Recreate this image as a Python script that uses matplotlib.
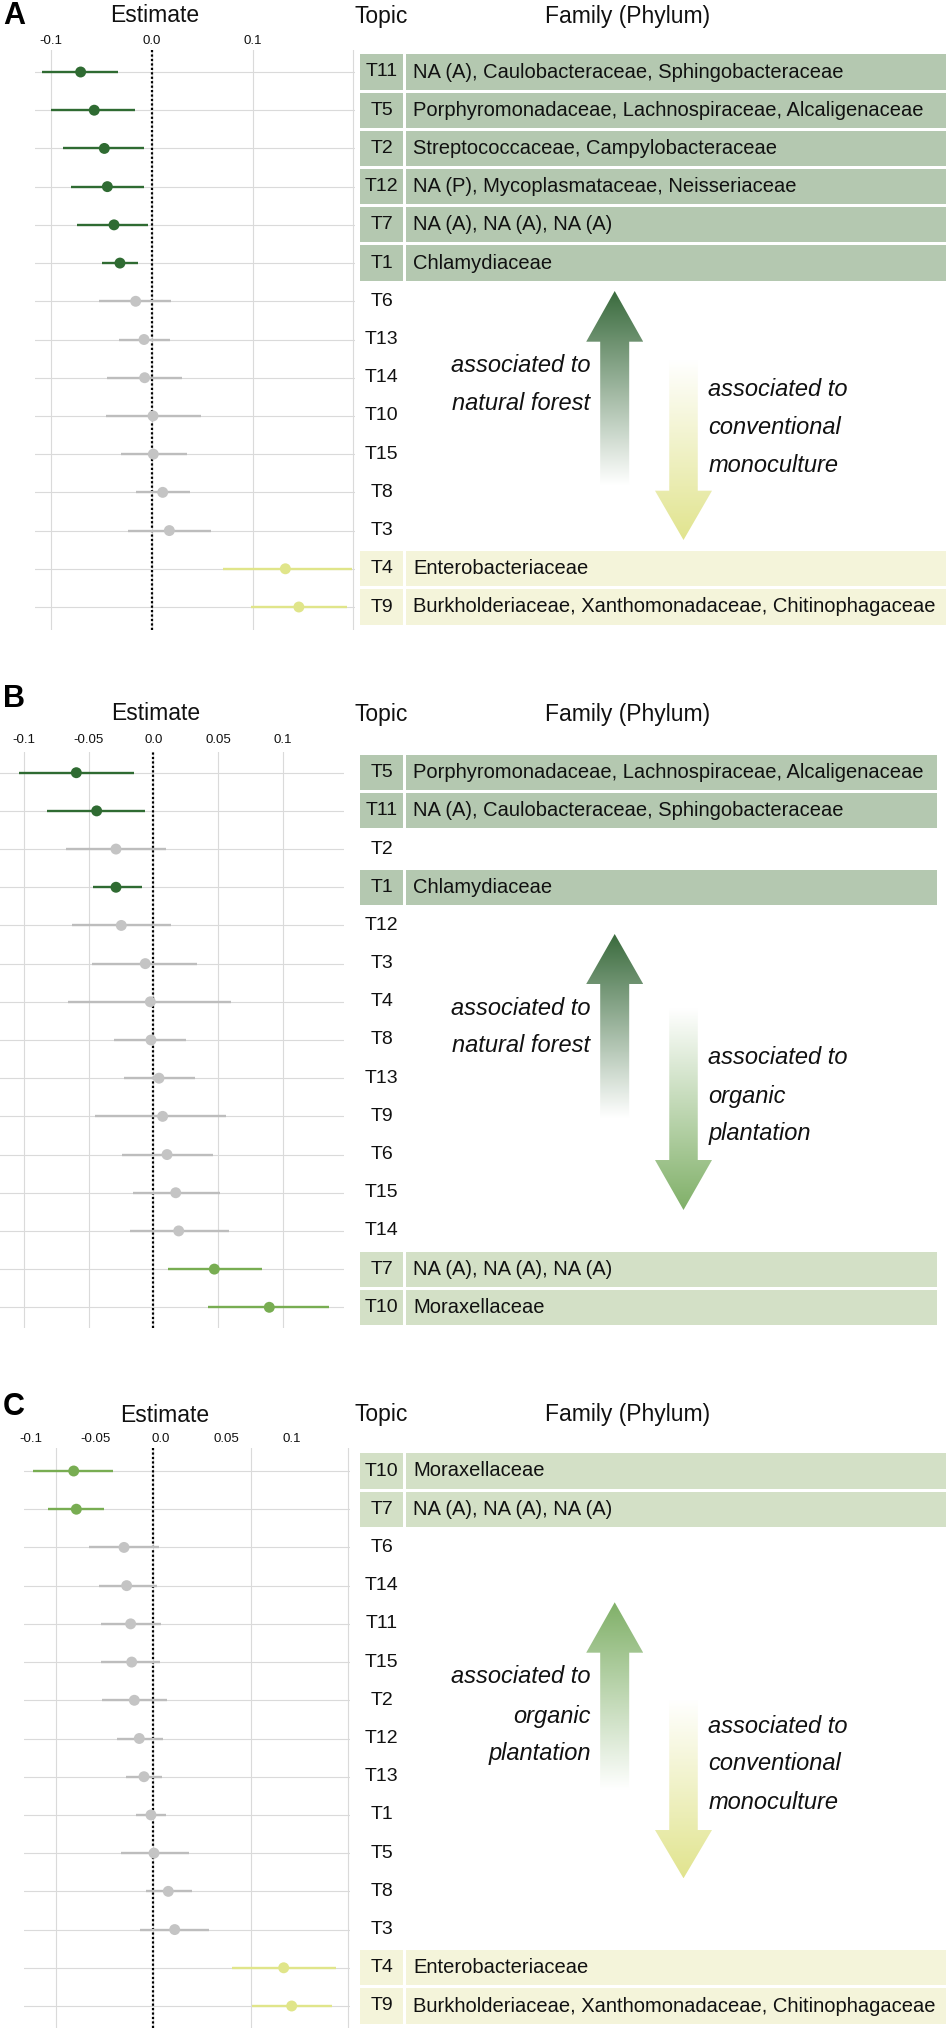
import matplotlib
matplotlib.use('Agg')
import matplotlib.pyplot as plt
import numpy as np
from matplotlib.patches import Polygon, Rectangle
from matplotlib.colors import to_rgb

plt.rcParams['font.family'] = ['Liberation Sans', 'DejaVu Sans']

# ---------------- data ----------------
a_topics = ['T11', 'T5', 'T2', 'T12', 'T7', 'T1', 'T6', 'T13', 'T14', 'T10', 'T15', 'T8', 'T3', 'T4', 'T9']
a_est = [-0.0705, -0.057, -0.047, -0.044, -0.0374, -0.0315, -0.0159, -0.0076, -0.007, 0.0013, 0.0016, 0.0109, 0.0175, 0.1326, 0.146]
a_lo = [-0.109, -0.100, -0.088, -0.080, -0.0738, -0.0496, -0.052, -0.0324, -0.044, -0.0453, -0.0308, -0.0156, -0.0232, 0.0704, 0.0988]
a_hi = [-0.033, -0.0166, -0.0076, -0.0076, -0.0034, -0.0136, 0.019, 0.018, 0.030, 0.0486, 0.0353, 0.038, 0.0585, 0.199, 0.194]
a_group = ['forest'] * 6 + ['ns'] * 7 + ['conv'] * 2
a_family = ['NA (A), Caulobacteraceae, Sphingobacteraceae',
            'Porphyromonadaceae, Lachnospiraceae, Alcaligenaceae',
            'Streptococcaceae, Campylobacteraceae',
            'NA (P), Mycoplasmataceae, Neisseriaceae',
            'NA (A), NA (A), NA (A)',
            'Chlamydiaceae',
            '', '', '', '', '', '', '',
            'Enterobacteriaceae',
            'Burkholderiaceae, Xanthomonadaceae, Chitinophagaceae']

b_topics = ['T5', 'T11', 'T2', 'T1', 'T12', 'T3', 'T4', 'T8', 'T13', 'T9', 'T6', 'T15', 'T14', 'T7', 'T10']
b_est = [-0.0594, -0.0437, -0.0288, -0.0288, -0.0247, -0.0062, -0.0023, -0.0018, 0.0044, 0.0072, 0.0106, 0.0173, 0.0196, 0.0471, 0.0895]
b_lo = [-0.1036, -0.0823, -0.0674, -0.0468, -0.0627, -0.047, -0.066, -0.0303, -0.0226, -0.045, -0.0244, -0.0154, -0.018, 0.0116, 0.0424]
b_hi = [-0.0149, -0.0064, 0.0098, -0.009, 0.0139, 0.0337, 0.060, 0.0252, 0.0322, 0.0561, 0.0458, 0.0515, 0.0584, 0.0841, 0.1356]
b_group = ['forest', 'forest', 'ns', 'forest'] + ['ns'] * 9 + ['org', 'org']
b_family = ['Porphyromonadaceae, Lachnospiraceae, Alcaligenaceae',
            'NA (A), Caulobacteraceae, Sphingobacteraceae',
            '',
            'Chlamydiaceae',
            '', '', '', '', '', '', '', '', '',
            'NA (A), NA (A), NA (A)',
            'Moraxellaceae']

c_topics = ['T10', 'T7', 'T6', 'T14', 'T11', 'T15', 'T2', 'T12', 'T13', 'T1', 'T5', 'T8', 'T3', 'T4', 'T9']
c_est = [-0.0818, -0.0791, -0.0301, -0.0274, -0.0233, -0.0222, -0.0195, -0.0144, -0.0096, -0.0024, 0.0007, 0.0154, 0.022, 0.134, 0.1422]
c_lo = [-0.1236, -0.1082, -0.0658, -0.0561, -0.0541, -0.0534, -0.0524, -0.0373, -0.0284, -0.0178, -0.0329, -0.0078, -0.0134, 0.0812, 0.1011]
c_hi = [-0.0411, -0.0504, 0.0055, 0.0035, 0.0082, 0.0069, 0.0141, 0.010, 0.0089, 0.0130, 0.037, 0.0394, 0.0576, 0.1878, 0.1833]
c_group = ['org', 'org'] + ['ns'] * 11 + ['conv', 'conv']
c_family = ['Moraxellaceae',
            'NA (A), NA (A), NA (A)',
            '', '', '', '', '', '', '', '', '', '', '',
            'Enterobacteriaceae',
            'Burkholderiaceae, Xanthomonadaceae, Chitinophagaceae']

a_ticks = [-0.1, 0.0, 0.1, 0.2]
a_ticklabels = ['-0.1', '0.0', '0.1', '']
b_ticks = [-0.1, -0.05, 0.0, 0.05, 0.1]
b_ticklabels = ['-0.1', '-0.05', '0.0', '0.05', '0.1']
c_grid = [-0.1, 0.0, 0.1, 0.2]
c_ticks = [-0.1, -0.05, 0.0, 0.05, 0.1]
c_ticklabels = ['-0.1', '-0.05', '0.0', '0.05', '0.1']

# ---------------- styles ----------------
point_col = {'forest': '#2f6b32', 'conv': '#e0e58a', 'org': '#78ad52', 'ns': '#c4c4c4'}
line_col = {'forest': '#2f6b32', 'conv': '#e0e58a', 'org': '#78ad52', 'ns': '#bdbdbd'}
box_col = {'forest': '#b4c8b0', 'conv': '#f4f4da', 'org': '#d3e0c6'}
GRID = '#dadada'
TXT = '#111111'

W, H = 950, 2032
fig = plt.figure(figsize=(9.5, 20.32), dpi=100)


def rect(x0, y0, x1, y1):
    return [x0 / W, 1 - y1 / H, (x1 - x0) / W, (y1 - y0) / H]


def forest(est, lo, hi, group, topics, family, lay, ticks, ticklabels, grid_vals=None,
           sec=None):
    xl, xr, top, bot, row0, row14, x0, ppu, pad, box_right = lay
    ax = fig.add_axes(rect(xl, top, xr, bot))
    s = (row14 - row0) / 14.0
    ylim = ((bot - row0) / s, (top - row0) / s)
    ax.set_ylim(*ylim)
    ax.set_xlim((xl - x0) / ppu, (xr - x0) / ppu)
    y = np.arange(len(est))
    ax.set_yticks(y)
    ax.tick_params(axis='y', length=0, labelleft=False)
    ax.yaxis.grid(True, color=GRID, lw=0.8)
    if grid_vals is None:
        ax.set_xticks(ticks, ticklabels)
    else:
        ax.set_xticks(grid_vals, [''] * len(grid_vals))
    ax.xaxis.tick_top()
    ax.tick_params(axis='x', length=0, pad=pad, labelsize=9.5, labelcolor=TXT)
    ax.xaxis.grid(True, color=GRID, lw=0.8)
    ax.set_axisbelow(True)
    for sp in ax.spines.values():
        sp.set_visible(False)
    ax.axvline(0, color='black', lw=1.6, ls=(0, (1, 1)), zorder=2)
    ax.hlines(y, lo, hi, colors=[line_col[g] for g in group], lw=1.7, zorder=3)
    ax.scatter(est, y, s=62, c=[point_col[g] for g in group], linewidths=0, zorder=4)
    if sec is not None:
        fwd, inv = sec
        sx = ax.secondary_xaxis('top', functions=(fwd, inv))
        sx.set_xticks(ticks, ticklabels)
        sx.tick_params(length=0, pad=pad, labelsize=9.5, labelcolor=TXT)
        for sp in sx.spines.values():
            sp.set_visible(False)

    # topic / family table sharing the row scale
    tax = fig.add_axes(rect(340, top, 950, bot), sharey=ax)
    tax.set_xlim(340, 950)
    tax.set_ylim(*ylim)
    tax.axis('off')
    for i, (t, f, g) in enumerate(zip(topics, family, group)):
        if g != 'ns':
            tax.add_patch(Rectangle((360.3, i - 0.46), 43.0, 0.92, facecolor=box_col[g],
                                    edgecolor='none'))
            tax.add_patch(Rectangle((406.3, i - 0.46), box_right - 406.3, 0.92,
                                    facecolor=box_col[g], edgecolor='none'))
        tax.text(381.8, i, t, ha='center', va='center', fontsize=14, color=TXT)
        if f:
            tax.text(413.3, i, f, ha='left', va='center', fontsize=14.5, color=TXT)
    return ax


# layout: xl, xr, top, bot, row0, row14, zero_px, px_per_unit, tick pad, box right
lay_a = (35, 355, 50, 630, 72, 607, 151.7, 1008, 2.5, 946)
lay_b = (0, 344, 751.7, 1328, 772.7, 1307.3, 153.3, 1296, 4.0, 937)
lay_c = (24, 350, 1448, 2028, 1471, 2006, 153.3, 973, 1.8, 946)

forest(a_est, a_lo, a_hi, a_group, a_topics, a_family, lay_a, a_ticks, a_ticklabels)
forest(b_est, b_lo, b_hi, b_group, b_topics, b_family, lay_b, b_ticks, b_ticklabels)


def c_fwd(d):
    return (np.asarray(d) * 973 + 153.3 - 161.1) / 1302.8


def c_inv(v):
    return (np.asarray(v) * 1302.8 + 161.1 - 153.3) / 973


forest(c_est, c_lo, c_hi, c_group, c_topics, c_family, lay_c, c_ticks, c_ticklabels,
       grid_vals=c_grid, sec=(c_fwd, c_inv))

# ---------------- overlay: headers, arrows, captions ----------------
ov = fig.add_axes([0, 0, 1, 1])
ov.set_xlim(0, W)
ov.set_ylim(H, 0)
ov.axis('off')


def grad_arrow(xc, tip, head_base, tail, shaft_w, head_w, color):
    up = tip < tail
    pts = [(xc, tip), (xc + head_w / 2, head_base), (xc + shaft_w / 2, head_base),
           (xc + shaft_w / 2, tail), (xc - shaft_w / 2, tail), (xc - shaft_w / 2, head_base),
           (xc - head_w / 2, head_base)]
    patch = Polygon(pts, closed=True, facecolor='none', edgecolor='none')
    ov.add_patch(patch)
    ymin, ymax = min(tip, tail), max(tip, tail)
    t = np.linspace(0, 1, 256)
    frac = (1 - t) if up else t
    c = np.array(to_rgb(color))
    rgb = (1 - frac)[:, None] * np.ones(3) + frac[:, None] * c
    im = ov.imshow(rgb[:, None, :], extent=(xc - head_w / 2, xc + head_w / 2, ymax, ymin),
                   origin='upper', aspect='auto', interpolation='bilinear', zorder=2)
    im.set_clip_path(patch)


panels = [
    # letter, letter_y, est_x, header_y
    ('A', 15.7, 155, 16),
    ('B', 699, 156, 714),
    ('C', 1406.7, 164.5, 1415),
]
for letter, ly, ex, hy in panels:
    ov.text(3, ly, letter, ha='left', va='center', fontsize=22, fontweight='bold', color='black')
    ov.text(ex, hy, 'Estimate', ha='center', va='center', fontsize=16.5, color=TXT)
    ov.text(381.5, hy, 'Topic', ha='center', va='center', fontsize=16.5, color=TXT)
    ov.text(628, hy, 'Family (Phylum)', ha='center', va='center', fontsize=16.5, color=TXT)

DARK = '#3a6b3d'
YEL = '#e1e48e'
ORG = '#80b068'

# panel A arrows
grad_arrow(614.7, 291, 341.7, 485, 29, 57, DARK)
grad_arrow(683.5, 540, 490.7, 360, 28.5, 57, YEL)
# panel B arrows
grad_arrow(614.7, 934, 984, 1118, 29, 57, DARK)
grad_arrow(683.5, 1210, 1160, 1008, 28.5, 57, ORG)
# panel C arrows
grad_arrow(614.7, 1602.3, 1652.7, 1790, 29, 57, ORG)
grad_arrow(683.5, 1878.3, 1830, 1700, 28.5, 57, YEL)

ov.set_xlim(0, W)
ov.set_ylim(H, 0)

captions = [
    (590.6, 'right', [(365.7, 'associated to'), (403.3, 'natural forest')]),
    (708.3, 'left', [(389.3, 'associated to'), (427, 'conventional'), (465, 'monoculture')]),
    (590.6, 'right', [(1008.3, 'associated to'), (1046, 'natural forest')]),
    (708.3, 'left', [(1057.3, 'associated to'), (1096, 'organic'), (1133.3, 'plantation')]),
    (590.6, 'right', [(1676.7, 'associated to'), (1716, 'organic'), (1753.3, 'plantation')]),
    (708.3, 'left', [(1726.7, 'associated to'), (1764, 'conventional'), (1802.3, 'monoculture')]),
]
for x, ha, lines in captions:
    for yy, s in lines:
        ov.text(x, yy, s, ha=ha, va='center', fontsize=17, style='italic', color=TXT)

fig.savefig('out.png', dpi=100)
